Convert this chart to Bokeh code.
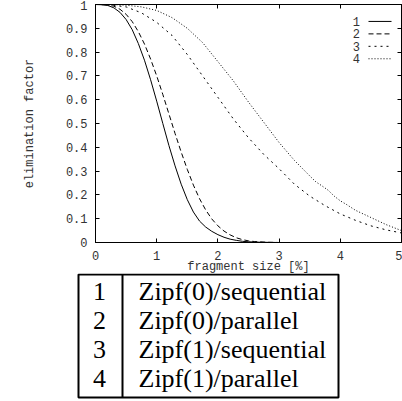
from bokeh.plotting import figure
from bokeh.models import Range1d, LinearAxis, FixedTicker
from bokeh.layouts import column, row
from bokeh.embed import file_html
from bokeh.resources import INLINE
from bokeh.core.properties import value

# ---------------- data ----------------
x_seq0 = [0, 0.1, 0.2, 0.3, 0.4, 0.5, 0.6, 0.7, 0.8, 0.9, 1.0, 1.1, 1.2, 1.3, 1.4,
          1.5, 1.6, 1.7, 1.8, 1.9, 2.0, 2.1, 2.2, 2.3, 2.4, 2.5, 2.7, 3.0, 5.0]
y_seq0 = [1.0, 0.999, 0.996, 0.986, 0.967, 0.937, 0.894, 0.836, 0.766, 0.684, 0.594,
          0.500, 0.407, 0.322, 0.245, 0.180, 0.128, 0.090, 0.065, 0.047, 0.033, 0.022,
          0.014, 0.009, 0.005, 0.003, 0.001, 0.0, 0.0]

x_par0 = [0, 0.1, 0.2, 0.3, 0.4, 0.5, 0.6, 0.7, 0.8, 0.9, 1.0, 1.1, 1.2, 1.3, 1.4,
          1.5, 1.6, 1.7, 1.8, 1.9, 2.0, 2.1, 2.2, 2.3, 2.4, 2.5, 2.6, 2.8, 3.0, 5.0]
y_par0 = [1.0, 1.0, 0.998, 0.993, 0.980, 0.959, 0.928, 0.886, 0.834, 0.771, 0.700,
          0.622, 0.540, 0.458, 0.380, 0.307, 0.241, 0.184, 0.137, 0.099, 0.070, 0.048,
          0.032, 0.020, 0.012, 0.007, 0.004, 0.001, 0.0, 0.0]

x_seq1 = [0, 0.25, 0.5, 0.75, 1.0, 1.25, 1.5, 1.75, 2.0, 2.25, 2.5, 2.75, 3.0, 3.25,
          3.5, 3.75, 4.0, 4.25, 4.5, 4.75, 5.0]
y_seq1 = [1.0, 0.998, 0.99, 0.965, 0.925, 0.87, 0.79, 0.70, 0.61, 0.52, 0.44, 0.37,
          0.31, 0.245, 0.195, 0.155, 0.12, 0.093, 0.07, 0.053, 0.04]

x_par1 = [0, 0.25, 0.5, 0.75, 1.0, 1.25, 1.5, 1.75, 2.0, 2.25, 2.5, 2.75, 3.0, 3.25,
          3.5, 3.6, 3.7, 3.8, 3.9, 4.0, 4.1, 4.25, 4.5, 4.75, 5.0]
y_par1 = [1.0, 1.0, 0.997, 0.99, 0.975, 0.945, 0.90, 0.84, 0.76, 0.68, 0.59, 0.505,
          0.42, 0.345, 0.28, 0.255, 0.238, 0.22, 0.195, 0.175, 0.16, 0.135, 0.105,
          0.075, 0.05]

series_ids = ["1", "2", "3", "4"]
series_names = ["Zipf(0)/sequential", "Zipf(0)/parallel",
                "Zipf(1)/sequential", "Zipf(1)/parallel"]

x_ticks = [0, 1, 2, 3, 4, 5]
x_tick_labels = ["0", "1", "2", "3", "4", "5"]
y_ticks = [0, 0.1, 0.2, 0.3, 0.4, 0.5, 0.6, 0.7, 0.8, 0.9, 1]
y_tick_labels = ["0", "0.1", "0.2", "0.3", "0.4", "0.5", "0.6", "0.7", "0.8", "0.9", "1"]

# ---------------- styles ----------------
MONO = "Liberation Mono"
SERIF = "Liberation Serif"
TXT = "#333333"
dashes = ["solid", "5 3", "2 4", "1 2"]

W = 402
FL, FT, FW, FH = 95, 4, 306, 239   # plot frame in page pixels
BOTTOM = 33
H1 = FT + FH + BOTTOM              # 276
TABLE_TOP = 273                    # page y where the table figure starts
H2 = 401 - TABLE_TOP

p = figure(width=W, height=H1, x_range=Range1d(0, 5), y_range=Range1d(0, 1),
           output_backend="svg", toolbar_location=None,
           min_border_left=FL, min_border_right=W - FL - FW, min_border_top=FT,
           min_border_bottom=BOTTOM)
p.xgrid.visible = False
p.ygrid.visible = False
p.outline_line_color = "black"
p.background_fill_color = "white"
p.border_fill_color = "white"


def style_axis(ax, ticks, labels):
    ax.ticker = FixedTicker(ticks=ticks)
    ax.major_label_overrides = dict(zip(ticks, labels))
    ax.major_tick_in = 4
    ax.major_tick_out = 0
    ax.minor_tick_in = 0
    ax.minor_tick_out = 0
    ax.axis_line_color = "black"
    ax.major_tick_line_color = "black"
    ax.major_label_text_font = MONO
    ax.major_label_text_color = TXT
    ax.major_label_text_font_size = "12px"


xa = p.xaxis[0]
style_axis(xa, x_ticks, x_tick_labels)
xa.major_label_standoff = 8
xa.axis_label = "fragment size [%]"
xa.axis_label_text_font = MONO
xa.axis_label_text_font_size = "12px"
xa.axis_label_text_font_style = "normal"
xa.axis_label_text_color = TXT
xa.axis_label_standoff = -3

ya = p.yaxis[0]
style_axis(ya, y_ticks, y_tick_labels)
ya.major_label_standoff = 8
ya.axis_label = "elimination factor"
ya.axis_label_text_font = MONO
ya.axis_label_text_font_size = "12px"
ya.axis_label_text_font_style = "normal"
ya.axis_label_text_color = TXT
ya.axis_label_standoff = 26

# mirrored tick marks on top and right (no labels)
top_ax = LinearAxis()
style_axis(top_ax, x_ticks, [""] * len(x_ticks))
top_ax.major_label_text_font_size = "1px"
top_ax.major_label_standoff = 0
p.add_layout(top_ax, "above")

right_ax = LinearAxis()
style_axis(right_ax, y_ticks, [""] * len(y_ticks))
right_ax.major_label_text_font_size = "1px"
right_ax.major_label_standoff = 0
p.add_layout(right_ax, "right")

xs = [x_seq0, x_par0, x_seq1, x_par1]
ys = [y_seq0, y_par0, y_seq1, y_par1]
for xv, yv, d in zip(xs, ys, dashes):
    p.line(xv, yv, line_color="black", line_width=1, line_dash=d)


# legend (gnuplot style: label on the left, sample on the right)
def px_x(px):
    return (px - FL) / FW * 5


def px_y(py):
    return (FT + FH - py) / FH


leg_rows_px = [21, 33.5, 46, 58.5]
for sid, d, ry in zip(series_ids, dashes, leg_rows_px):
    p.text(x=[px_x(359.5)], y=[px_y(ry)], text=[sid], text_align="right",
           text_baseline="middle", text_font=value(MONO), text_font_size="12px",
           text_color=TXT)
    p.segment(x0=[px_x(368)], y0=[px_y(ry)], x1=[px_x(391)], y1=[px_y(ry)],
              line_color="black", line_width=1, line_dash=d)

# ---------------- table ----------------
t = figure(width=W, height=H2, x_range=Range1d(0, W), y_range=Range1d(H2, 0),
           output_backend="svg", toolbar_location=None, min_border=0)
t.axis.visible = False
t.xgrid.visible = False
t.ygrid.visible = False
t.outline_line_color = None
t.background_fill_color = None
t.border_fill_color = None

OX, OY = 0, TABLE_TOP   # page offset of the table figure
t.quad(left=[78 - OX], right=[338 - OX], top=[274 - OY], bottom=[397 - OY],
       fill_color=None, line_color="black", line_width=2)
t.segment(x0=[122 - OX], y0=[274 - OY], x1=[122 - OX], y1=[397 - OY],
          line_color="black", line_width=2)
row_y = [291 - OY, 320 - OY, 349 - OY, 378 - OY]
t.text(x=[99 - OX] * 4, y=row_y, text=series_ids, text_align="center",
       text_baseline="middle", text_font=value(SERIF), text_font_size="26px",
       text_color="black")
t.text(x=[138 - OX] * 4, y=row_y, text=series_names, text_align="left",
       text_baseline="middle", text_font=value(SERIF), text_font_size="26px",
       text_color="black")

layout = column(p, row(t, margin=(TABLE_TOP - H1, 0, 0, 0)))
open("out.html", "w").write(file_html(layout, INLINE))
